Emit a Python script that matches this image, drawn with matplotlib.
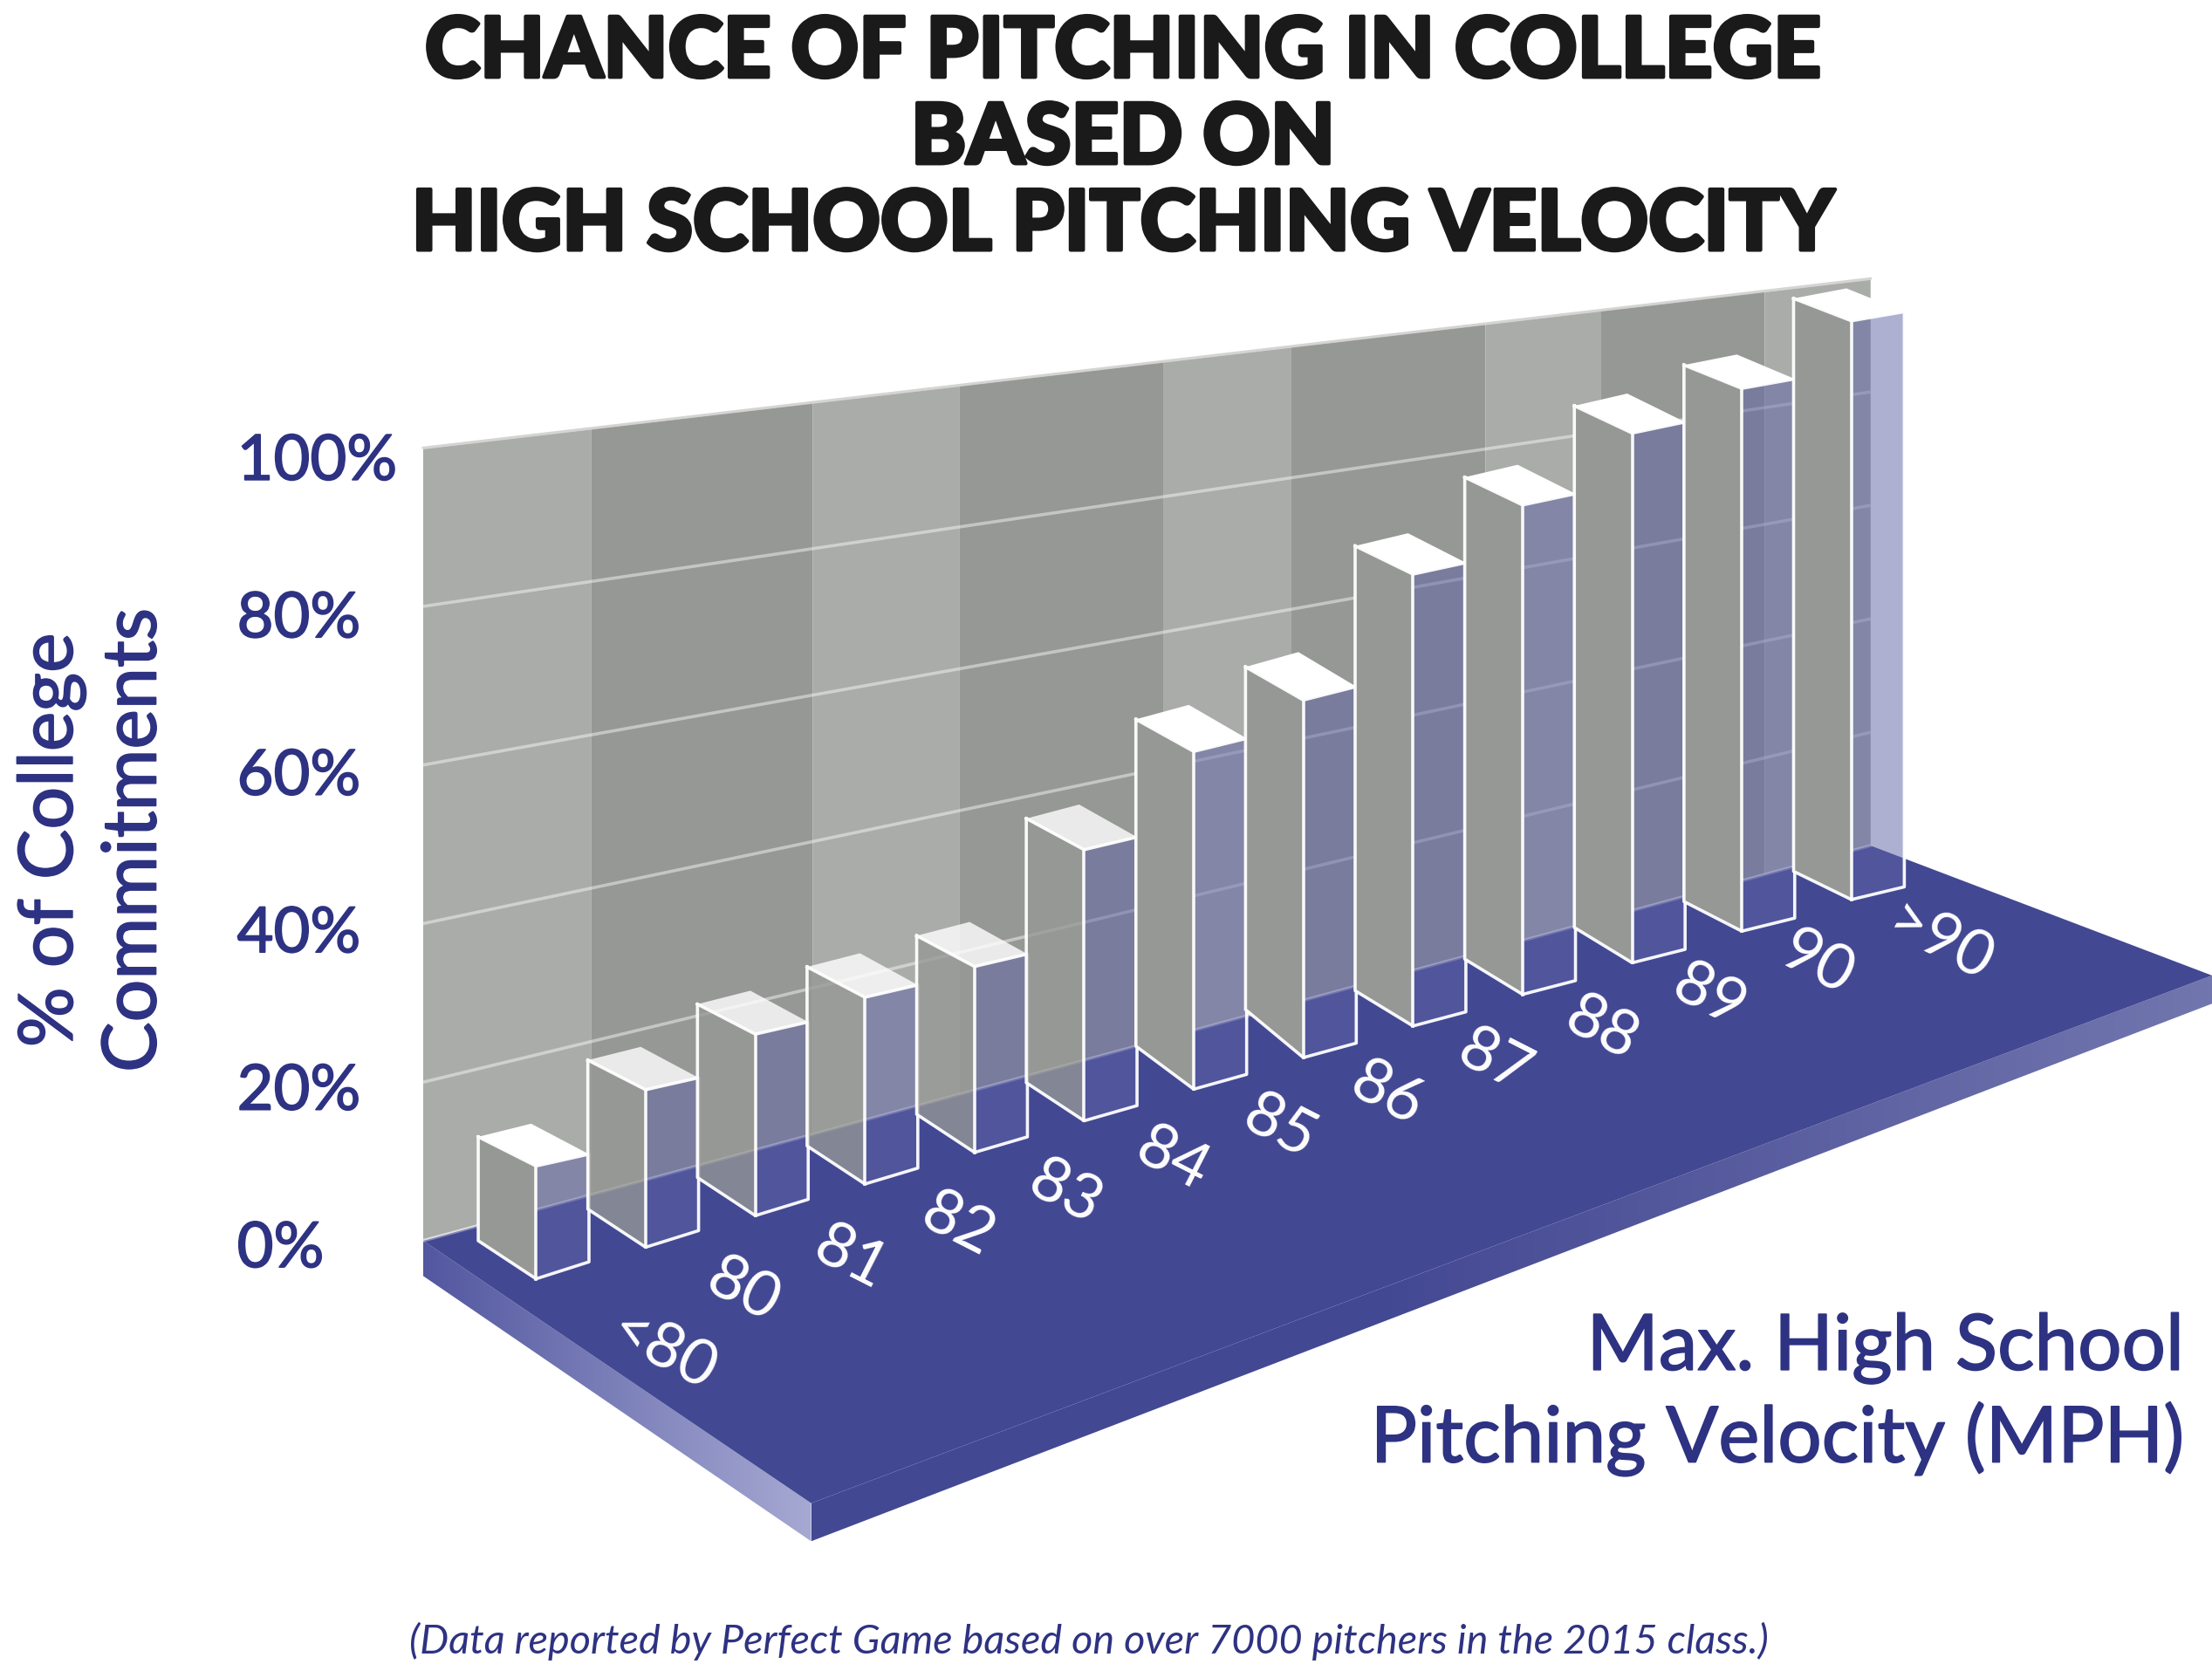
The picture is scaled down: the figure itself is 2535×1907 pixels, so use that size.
import numpy as np
import matplotlib
matplotlib.use("Agg")
import matplotlib.pyplot as plt
import matplotlib.patheffects as pe
from matplotlib.patches import Polygon

# ---- data ----
categories = ["<80", "80", "81", "82", "83", "84", "85", "86", "87", "88", "89", "90", ">90"]
pct_commit = [12.9, 19.2, 23.0, 24.4, 25.0, 38.1, 48.5, 52.3, 69.4, 77.3, 86.1, 90.9, 100]
y_ticks = [0, 20, 40, 60, 80, 100]

title = "CHANCE OF PITCHING IN COLLEGE\nBASED ON\nHIGH SCHOOL PITCHING VELOCITY"
y_title = "% of College\nCommitments"
x_title = "Max. High School\nPitching Velocity (MPH)"
footer = "(Data reported by Perfect Game based on over 7000 pitchers in the 2015 class.)"

# ---- colours ----
INK = "#2e3282"
FLOOR = "#434893"
WALL_LIGHT = "#aaaca9"
WALL_DARK = "#969895"
FACE_R = "#5d62a5"

FONT = ["Lato", "DejaVu Sans"]
MEDIUM = [pe.withStroke(linewidth=1.2, foreground=INK)]

# page units: 1568 wide, y going down
W, H = 1568, 1180
fig = plt.figure(figsize=(25.35, 19.08), dpi=100)
ax = fig.add_axes([0, 0, 1, 1])


# ---- the fake 3D projection ----
def wall_y(x, v):
    f = (x - 300) / (1326 - 300)
    return 880 - 280 * f - v / 100 * (562 - 160 * f)


def hgrad(poly, c0, c1, z, hold=0.0):
    xs = [p[0] for p in poly]
    ys = [p[1] for p in poly]
    c0 = np.array(matplotlib.colors.to_rgb(c0))
    c1 = np.array(matplotlib.colors.to_rgb(c1))
    g = np.clip((np.linspace(0, 1, 256) - hold) / (1 - hold), 0, 1)[None, :, None]
    im = ax.imshow(c0 + (c1 - c0) * g, extent=[min(xs), max(xs), max(ys), min(ys)],
                   aspect="auto", zorder=z)
    p = Polygon(poly, closed=True, fc="none", ec="none", transform=ax.transData)
    ax.add_patch(p)
    im.set_clip_path(p)


# wall with alternating bands
band_edges = [300, 419, 576, 680, 825, 915, 1053, 1135, 1251, 1326]
for k in range(len(band_edges) - 1):
    x0, x1 = band_edges[k], band_edges[k + 1]
    ax.add_patch(Polygon([(x0, wall_y(x0, 100)), (x1, wall_y(x1, 100)),
                          (x1, wall_y(x1, 0)), (x0, wall_y(x0, 0))],
                         fc=WALL_LIGHT if k % 2 == 0 else WALL_DARK, ec="none", zorder=1))

# gridlines
for v in y_ticks:
    ax.plot([300, 1326], [wall_y(300, v), wall_y(1326, v)],
            color="white", alpha=0.45, lw=2.6, zorder=2, solid_capstyle="butt")
ax.plot([300, 1326], [wall_y(300, 100), wall_y(1326, 100)], color="#d4d5d3", lw=2, zorder=2)

# floor slab
hgrad([(300, 880), (575, 1066), (575, 1093), (300, 905)], "#5257a0", "#a6a9d2", 3)
hgrad([(575, 1066), (1568, 692), (1568, 712), (575, 1093)], FLOOR, "#7276ae", 3, hold=0.4)
ax.add_patch(Polygon([(300, 880), (1326, 600), (1568, 692), (575, 1066)],
                     fc=FLOOR, ec="none", zorder=4))
# wall base line sits over the floor edge
ax.plot([300, 1326], [wall_y(300, 0), wall_y(1326, 0)], color="white", alpha=0.35, lw=2.6, zorder=5)

# bars are drawn by hand-ish in the original, depth is not quite regular
knots = [0, 5, 7, 8, 10, 11, 12]
base_depth = [27, 27, 34, 25, 25, 21, 20]
top_depth = [30, 32, 34, 29, 28, 24, 23]

for i, v in enumerate(pct_commit):
    t = i / 12
    fx, fy = 380 + 77.7 * i, 907 - 22.4 * i
    lx, ly = fx - 41, fy - np.interp(i, knots, base_depth)
    rx, ry = fx + 37.5, fy - 12 + 3 * t
    bx, by = lx + rx - fx, ly + ry - fy
    s = 550 - 12.15 * i
    ty = by - v / 100 * s
    d = np.interp(i, knots, top_depth)
    top_f = (fx, ty + d)
    top_l = (lx, ty + 0.31 * d)
    top_r = (rx, ty + 0.72 * d)
    top_b = (bx, ty)
    z = 10 + i
    see_through = 1 <= i <= 5
    ax.add_patch(Polygon([(fx, fy), (rx, ry), top_r, top_f],
                         fc=FACE_R, alpha=0.5, ec="none", zorder=z))
    ax.add_patch(Polygon([(lx, ly), (fx, fy), top_f, top_l],
                         fc=WALL_DARK, alpha=0.78 if see_through else 1, ec="none", zorder=z))
    ax.add_patch(Polygon([top_l, top_f, top_r, top_b],
                         fc="white", alpha=0.8 if see_through else 1, ec="none", zorder=z))
    ax.plot([top_l[0], lx, fx, rx, top_r[0], top_f[0], top_l[0]],
            [top_l[1], ly, fy, ry, top_r[1], top_f[1], top_l[1]],
            color="white", alpha=0.95, lw=2.6, solid_joinstyle="round", zorder=z)
    ax.plot([top_f[0], fx], [top_f[1], fy], color="white", alpha=0.95, lw=2.6, zorder=z)

    # label lying on the floor, first and last sit further out
    if i == 0:
        ox, oy = 90, 51
    elif i == 12:
        ox, oy = 63, 30
    else:
        ox, oy = 69 - 1.6 * (i - 1), 30.4 - 0.8 * (i - 1)
    ax.text(fx + ox, fy + oy, categories[i], color="white", family=FONT, fontsize=52,
            rotation=-27, rotation_mode="anchor", ha="center", va="center", zorder=30)

# y tick labels
for v in y_ticks:
    ax.text(168, 886 - v * 5.58, f"{v}%", color=INK, family=FONT, fontsize=52,
            ha="left", va="center", zorder=30, path_effects=MEDIUM)

ax.text(66, 596, y_title, color=INK, family=FONT, fontsize=62, rotation=90,
        ha="center", va="center", multialignment="center", linespacing=1.25, path_effects=MEDIUM)
ax.text(1548, 989, x_title, color=INK, family=FONT, fontsize=64,
        ha="right", va="center", multialignment="right", linespacing=1.28, path_effects=MEDIUM)
ax.text(772, 1163, footer, color=INK, family=FONT, fontsize=33.7, style="italic",
        ha="center", va="center")
ax.text(796, 99.5, title, color="#1a1a1a", family=FONT, fontsize=69, weight=900,
        ha="center", va="center", multialignment="center", linespacing=1.17,
        path_effects=[pe.withStroke(linewidth=3, foreground="#1a1a1a")])

ax.set_xlim(0, W)
ax.set_ylim(H, 0)
ax.axis("off")
fig.savefig("out.png", dpi=100, facecolor="white")
